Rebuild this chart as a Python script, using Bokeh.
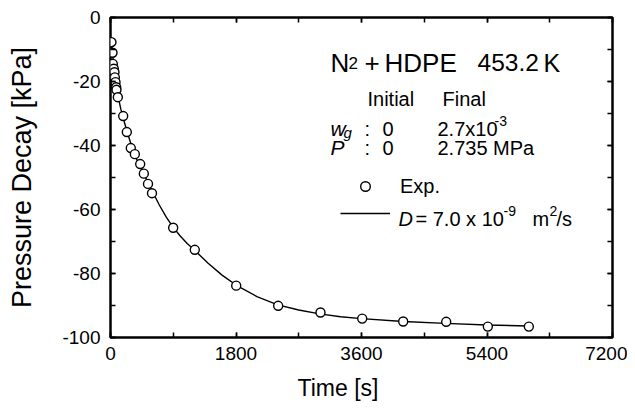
from bokeh.plotting import figure
from bokeh.models import (Range1d, LinearAxis, SingleIntervalTicker, Label,
                          Legend, LegendItem, CustomJSTickFormatter, Title)
from bokeh.embed import file_html
from bokeh.resources import INLINE

# ---------------- data ----------------
exp_time = [14, 29, 33, 47, 57, 62, 72, 82, 86, 105, 182, 234, 291, 349, 426,
            478, 538, 595, 899, 1209, 1803, 2405, 3012, 3610, 4198, 4815,
            5412, 6000]
exp_decay = [-7.7, -11.0, -14.5, -16.0, -17.1, -18.7, -20.2, -21.8, -22.6,
             -24.9, -30.8, -35.8, -40.8, -42.7, -45.8, -48.8, -52.0, -54.9,
             -65.7, -72.6, -83.8, -90.1, -92.2, -94.1, -95.0, -95.1, -96.6,
             -96.6]

model_time = [10, 30, 60, 100, 150, 200, 250, 300, 350, 400, 450, 500, 550,
              600, 700, 800, 900, 1000, 1100, 1200, 1400, 1600, 1800, 2100,
              2400, 2700, 3000, 3300, 3600, 4200, 4800, 5400, 6000]
model_decay = [-6.5, -11.5, -16.8, -23.8, -28.8, -32.8, -36.5, -40.0, -43.0,
               -45.5, -47.7, -49.9, -52.1, -54.3, -58.6, -62.4, -65.6, -68.3,
               -70.6, -72.6, -76.8, -80.5, -83.6, -87.2, -89.8, -91.4, -92.6,
               -93.5, -94.1, -95.0, -95.6, -96.1, -96.4]

x_ticks_interval = 1800
y_ticks_interval = 20

FONT = "Liberation Sans"

# frame placement (picture pixels) -> data conversion for annotation text
FL, FT, FW, FH = 110, 17, 502, 320
XMIN, XMAX, YMIN, YMAX = 0, 7200, -100, 0


def dx(px):
    return XMIN + (px - FL) * (XMAX - XMIN) / FW


def dy(py):
    return YMAX - (py - FT) * (YMAX - YMIN) / FH


W, H = 627, 410
p = figure(width=W, height=H, output_backend="svg", toolbar_location=None,
           x_range=Range1d(XMIN, XMAX), y_range=Range1d(YMIN, YMAX),
           min_border_left=FL, min_border_top=FT,
           min_border_right=W - FL - FW,
           min_border_bottom=H - FT - FH,
           y_axis_label="Pressure Decay [kPa]")

p.grid.visible = False
p.outline_line_color = "black"
p.outline_line_width = 2.5
p.background_fill_color = "white"
p.border_fill_color = "white"

xt = SingleIntervalTicker(interval=x_ticks_interval, num_minor_ticks=2)
yt = SingleIntervalTicker(interval=y_ticks_interval, num_minor_ticks=2)
p.xaxis.ticker = xt
p.yaxis.ticker = yt

fmt = CustomJSTickFormatter(code="return tick.toFixed(0);")
blank = CustomJSTickFormatter(code="return '';")

for ax in (p.xaxis[0], p.yaxis[0]):
    ax.formatter = fmt
    ax.axis_line_color = None
    ax.major_tick_in = 5
    ax.major_tick_out = 0
    ax.minor_tick_in = 5
    ax.minor_tick_out = 0
    ax.major_tick_line_width = 1.5
    ax.minor_tick_line_width = 1.5
    ax.major_label_text_font = FONT
    ax.major_label_text_font_size = "19px"
    ax.major_label_text_color = "black"
    ax.axis_label_text_font = FONT
    ax.axis_label_text_font_style = "normal"
    ax.axis_label_text_color = "black"

p.xaxis.major_label_standoff = 9
p.yaxis.major_label_standoff = 10
p.yaxis.axis_label_text_font_size = "27px"
p.yaxis.axis_label_standoff = 22

# mirrored axes with ticks only
for loc, tick in (("above", xt), ("right", yt)):
    ax = LinearAxis(ticker=tick, formatter=blank)
    ax.axis_line_color = None
    ax.major_tick_in = 5
    ax.major_tick_out = 0
    ax.minor_tick_in = 5
    ax.minor_tick_out = 0
    ax.major_tick_line_width = 1.5
    ax.minor_tick_line_width = 1.5
    ax.major_label_standoff = 0
    p.add_layout(ax, loc)

# x-axis title, placed left of the frame centre as in the reference
p.add_layout(Title(text="Time [s]", align="left", offset=297 - FL,
                   text_font=FONT, text_font_size="23px",
                   text_font_style="normal", text_color="black",
                   standoff=20), "below")

# model curve and experimental points
line_r = p.line(model_time, model_decay, line_color="black", line_width=1.4)
pts_r = p.scatter(exp_time, exp_decay, marker="circle", size=9,
                  fill_color="white", line_color="black", line_width=1.4)

# legend (Exp. / model line)
legend = Legend(items=[LegendItem(label="Exp.", renderers=[pts_r]),
                       LegendItem(label=" ", renderers=[line_r])],
                location=(340 - FL, (FT + FH) - 225),
                glyph_width=50, glyph_height=24, label_height=24,
                label_standoff=10, spacing=3, padding=0, margin=0,
                border_line_color=None, background_fill_alpha=0,
                label_text_font=FONT, label_text_font_size="20px",
                label_text_color="black")
p.add_layout(legend)


def lab(text, px, py, size, style="normal"):
    p.add_layout(Label(x=dx(px), y=dy(py), text=text, text_font=FONT,
                       text_font_size=size, text_font_style=style,
                       text_color="black", text_align="left",
                       text_baseline="alphabetic"))


# title block
lab("N", 330, 62, "26px")
lab("2", 348, 62, "17px")
lab("+", 364, 62, "26px")
lab("HDPE", 384, 62, "26px")
lab("453.2", 477, 62, "24.5px")
lab("K", 543, 62, "25px")

lab("Initial", 367, 98, "20px")
lab("Final", 442, 98, "20px")

lab("w", 330, 128, "21px", "italic")
lab("g", 343, 132, "15px", "italic")
lab(":", 364, 128, "20px")
lab("0", 382, 128, "20px")
lab("2.7x10", 437, 128, "20px")
lab("-3", 494, 120, "14px")

lab("P", 330, 147, "21px", "italic")
lab(":", 364, 147, "20px")
lab("0", 382, 147, "20px")
lab("2.735 MPa", 437, 147, "20px")

lab("D", 398, 218, "20px", "italic")
lab("= 7.0 x 10", 415, 218, "20px")
lab("-9", 503, 210, "14px")
lab("m", 532, 218, "20px")
lab("2", 549, 210, "14px")
lab("/s", 556, 218, "20px")

open("out.html", "w").write(file_html(p, INLINE))
